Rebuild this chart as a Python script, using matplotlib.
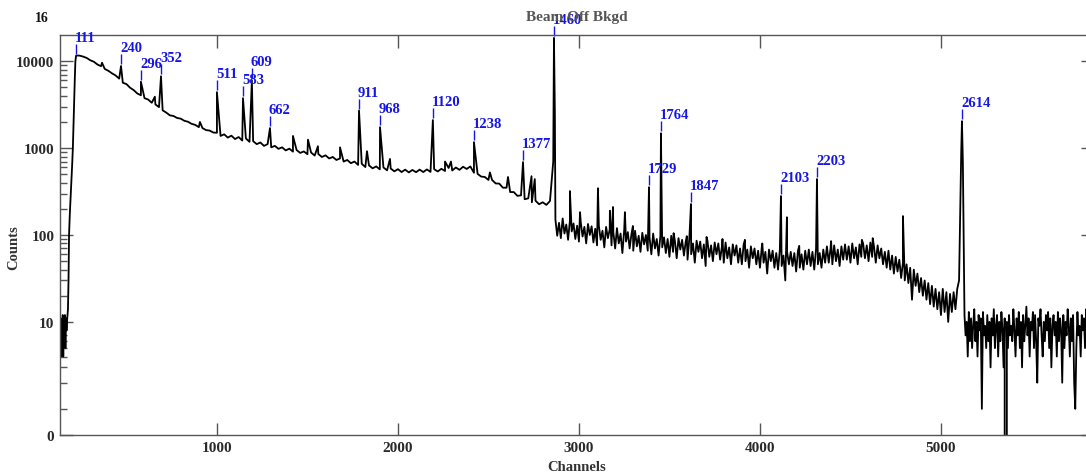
import numpy as np
import matplotlib
matplotlib.use("Agg")
import matplotlib.pyplot as plt
from matplotlib.transforms import offset_copy
from matplotlib.ticker import FixedLocator, NullLocator

# ---------------- data ----------------
# low-channel region (threshold + rise)
low_ch = [133, 136, 139, 142, 145, 148, 151, 154, 157, 160, 163, 166, 169,
          173, 177, 180, 183, 187, 192, 197, 201, 204, 208, 212, 215, 218]
low_counts = [5, 11, 4, 9, 6, 12, 4, 10, 7, 12, 5, 11, 8,
              11, 14, 30, 100, 170, 280, 450, 700, 1000, 2000, 4000, 6500, 10000]

# continuum 240..2840, every 20 channels
mid_start, mid_step = 240, 20
mid_counts = [11600, 11300, 10900, 10250, 9850, 9150, 8750, 8150, 7750, 7250,
              6850, 6300, 5650, 5450, 4950, 4650, 4250, 4050, 3750, 3620,
              3320, 3180, 2960, 2720, 2560, 2380, 2340, 2220, 2180, 2060,
              2010, 1900, 1850, 1740, 1700, 1610, 1590, 1510, 1500, 1380,
              1440, 1320, 1390, 1270, 1340, 1220, 1290, 1180, 1200, 1110,
              1160, 1060, 1110, 1020, 1060, 980, 1020, 940, 985, 910,
              950, 880, 915, 850, 890, 820, 855, 790, 825, 760,
              790, 730, 760, 700, 730, 670, 700, 640, 660, 605,
              632, 585, 615, 570, 598, 555, 582, 540, 572, 530,
              565, 525, 560, 528, 565, 530, 568, 532, 572, 538,
              578, 545, 590, 552, 598, 562, 610, 575, 615, 520,
              505, 470, 465, 430, 430, 392, 390, 350, 350, 312,
              312, 282, 286, 258, 264, 238, 248, 226, 238, 222,
              246]

# continuum 2870..5100, every 10 channels
hi_start, hi_step = 2870, 10
hi_counts = [150, 98, 138, 92, 155, 104, 132, 88, 146, 110,
             136, 90, 128, 84, 140, 96, 124, 80, 134, 100,
             126, 82, 118, 76, 128, 88, 112, 72, 124, 92,
             116, 76, 108, 70, 120, 80, 104, 62, 114, 84,
             108, 70, 102, 66, 112, 74, 98, 64, 106, 78,
             100, 66, 94, 60, 104, 70, 90, 58, 98, 72,
             94, 62, 90, 56, 98, 64, 86, 54, 92, 68,
             88, 58, 84, 52, 92, 60, 80, 48, 86, 64,
             84, 54, 78, 44, 86, 56, 76, 50, 82, 60,
             80, 52, 74, 48, 82, 54, 72, 46, 78, 58,
             76, 48, 70, 46, 78, 50, 68, 42, 74, 54,
             70, 46, 66, 42, 72, 48, 64, 36, 68, 50,
             66, 42, 62, 40, 68, 44, 58, 30, 64, 46,
             64, 44, 62, 38, 66, 42, 60, 40, 66, 46,
             68, 44, 64, 40, 70, 46, 62, 42, 68, 48,
             74, 48, 70, 46, 76, 50, 68, 44, 74, 52,
             78, 52, 74, 48, 80, 54, 72, 46, 78, 56,
             80, 54, 76, 50, 82, 56, 74, 48, 76, 54,
             70, 46, 64, 42, 66, 40, 58, 36, 56, 38,
             52, 32, 48, 30, 46, 28, 42, 18, 40, 26,
             36, 22, 32, 20, 30, 18, 28, 16, 26, 15,
             24, 14, 22, 12, 24, 13, 22, 10, 21, 13,
             22, 14, 24, 30]

# tail above the 2614 line, every 6 channels
tail_start, tail_step = 5130, 6
tail_counts = [12, 7, 10, 4, 13, 6, 11, 5, 9, 14, 6, 10, 4, 12, 8, 11, 1, 13, 7, 9,
               5, 12, 6, 10, 3, 11, 7, 14, 5, 9, 12, 4, 10, 6, 13, 8, 3, 11, 0, 10,
               5, 12, 7, 9, 6, 14, 8, 4, 11, 7, 13, 5, 10, 3, 12, 6, 9, 15, 7, 11,
               4, 10, 8, 13, 5, 12, 6, 2, 11, 9, 14, 7, 4, 10, 6, 12, 8, 13, 5, 11,
               3, 9, 12, 7, 10, 4, 13, 6, 11, 8, 2, 12, 5, 10, 7, 14, 9, 4, 11, 6,
               12, 2, 1, 5, 13, 7, 9, 4, 12, 8, 11, 5, 14, 6, 10, 3, 12, 7, 9, 5]

# labelled lines (energy in keV, channel, peak counts)
label_text = ["111", "240", "296", "352", "511", "583", "609", "662", "911", "968",
              "1120", "1238", "1377", "1460", "1729", "1764", "1847", "2103", "2203", "2614"]
label_ch = [222, 470, 580, 691, 1000, 1144, 1193, 1293, 1785, 1901,
            2193, 2420, 2691, 2862, 3387, 3453, 3619, 4116, 4315, 5116]
label_counts = [11600, 8800, 5800, 6700, 4400, 3750, 6000, 1700, 2700, 1740,
                2100, 1170, 690, 18500, 355, 1480, 227, 280, 440, 2040]

# unlabelled smaller lines
minor_ch = [365, 657, 906, 1420, 1503, 1558, 1680, 1829, 1956, 2260, 2293, 2508,
            2608, 2738, 2756, 2858, 2867, 2950, 3006, 3105, 3171, 3188, 3254, 3298,
            3523, 3596, 3705, 3793, 3917, 4013, 4149, 4217, 4393, 4563, 4623, 4790,
            5112, 5121]
minor_counts = [9600, 3900, 2000, 1380, 1250, 1050, 1020, 920, 750, 700, 700, 525,
                465, 475, 440, 700, 2500, 320, 183, 345, 190, 210, 183, 127,
                105, 97, 95, 90, 88, 80, 160, 75, 85, 88, 92, 165,
                900, 700]

x_ticks = [1000, 2000, 3000, 4000, 5000]
y_ticks = [0.5, 10, 100, 1000, 10000]
y_tick_labels = ["0", "10", "100", "1000", "10000"]

# ---------------- build spectrum ----------------
mid_ch = mid_start + mid_step * np.arange(len(mid_counts))
hi_ch = hi_start + hi_step * np.arange(len(hi_counts))
tail_ch = tail_start + tail_step * np.arange(len(tail_counts))

all_ch = np.concatenate([low_ch, mid_ch, hi_ch, tail_ch, label_ch, minor_ch]).astype(float)
all_counts = np.concatenate([low_counts, mid_counts, hi_counts, tail_counts,
                             label_counts, minor_counts]).astype(float)
order = np.argsort(all_ch, kind="mergesort")
all_ch = all_ch[order]
all_counts = all_counts[order]

# ---------------- plot ----------------
SERIF = "Liberation Serif"
plt.rcParams["font.family"] = [SERIF, "DejaVu Serif"]
plt.rcParams["font.weight"] = "bold"

W, H = 1086, 477
fig = plt.figure(figsize=(W / 100, H / 100), dpi=100)
ax = fig.add_axes([60 / W, 41 / H, 1033 / W, 400 / H])

ax.plot(all_ch, all_counts, color="black", lw=1.3)
ax.set_yscale("log")
ax.set_xlim(133, 5840)
ax.set_ylim(0.5, 20000)

ax.xaxis.set_major_locator(FixedLocator(x_ticks))
ax.xaxis.set_minor_locator(NullLocator())
ax.yaxis.set_major_locator(FixedLocator(y_ticks))
ax.set_yticklabels(y_tick_labels)
minor_pos = [m * 10 ** d for d in range(0, 5) for m in range(1, 10) if m * 10 ** d < 20000]
ax.yaxis.set_minor_locator(FixedLocator(minor_pos))
ax.yaxis.set_minor_formatter(plt.NullFormatter())

ax.tick_params(which="major", direction="in", length=9, width=1, top=True, right=True,
               color="#555555", labelcolor="#2a2a2a", labelsize=11, pad=4)
ax.tick_params(which="minor", direction="in", length=5, width=1, right=True,
               color="#555555")
for lab in ax.get_xticklabels() + ax.get_yticklabels():
    lab.set_fontweight("bold")
for s in ax.spines.values():
    s.set_color("#555555")
    s.set_linewidth(1)

# peak labels
blue = "#1515e6"
mark_tr = offset_copy(ax.transData, fig=fig, x=0, y=7, units="dots")
for t, c, n in zip(label_text, label_ch, label_counts):
    ax.plot([c], [n], marker="|", markersize=7.2, mew=1.0, color=blue,
            transform=mark_tr, clip_on=False)
    ax.annotate(t, xy=(c, n), xytext=(-1, 12), textcoords="offset pixels",
                ha="left", va="bottom", color=blue, fontsize=10.5,
                fontweight="bold", annotation_clip=False)

fig.text(577 / W, 1 - 18 / H, "Beam Off Bkgd", ha="center", va="center",
         color="#555555", fontsize=11, fontweight="bold", zorder=0)
fig.text(42 / W, 1 - 18 / H, "16", ha="center", va="center",
         color="#111111", fontsize=10, fontweight="bold")
fig.text(577 / W, 1 - 468 / H, "Channels", ha="center", va="center",
         color="#333333", fontsize=10.5, fontweight="bold")
fig.text(14 / W, 1 - 248 / H, "Counts", ha="center", va="center", rotation=90,
         color="#333333", fontsize=10.5, fontweight="bold")

fig.savefig("out.png", dpi=100)
